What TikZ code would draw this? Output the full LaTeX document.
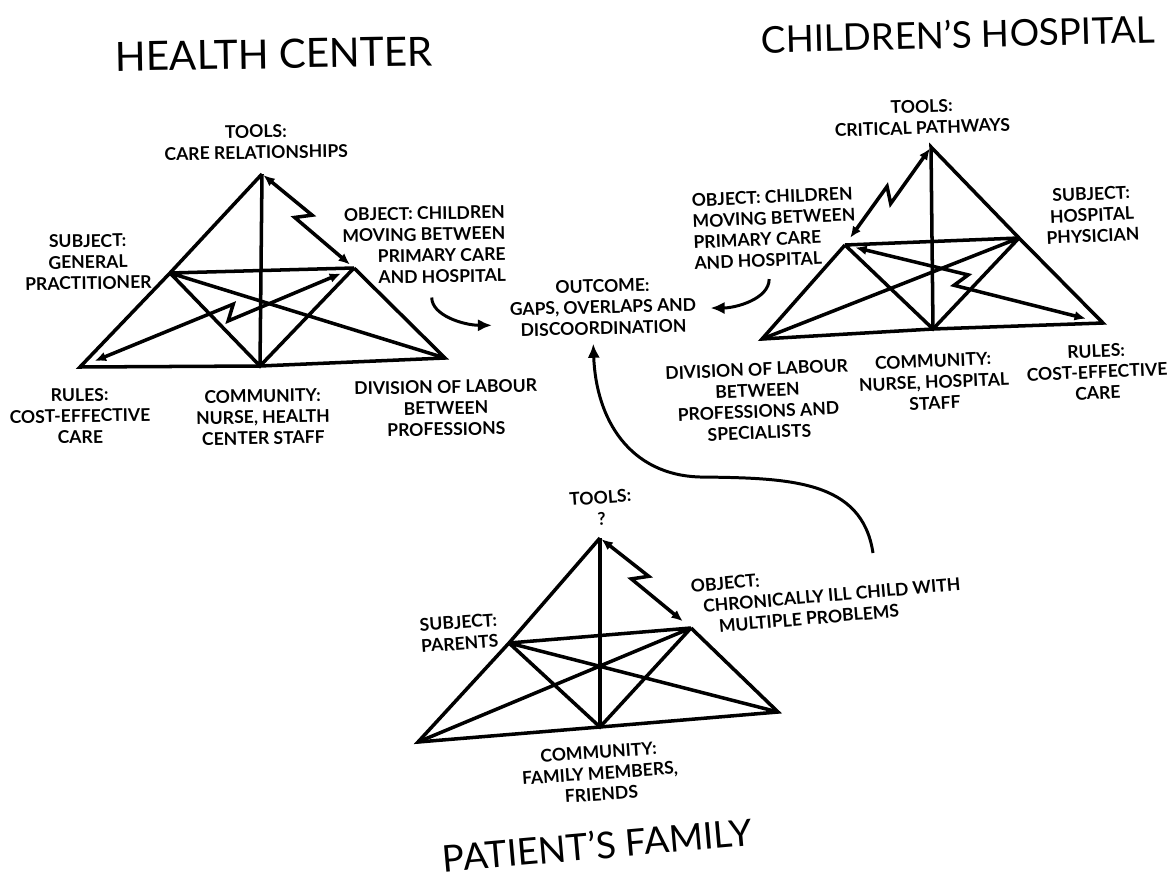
\documentclass[tikz,border=0pt]{standalone}
\usepackage{fontspec}
\setmainfont{Lato}
\usetikzlibrary{arrows.meta,calc,positioning}

\tikzset{
  edge/.style={line width=2pt},
  dbl/.style={edge, {Latex[length=6.5pt,width=5.5pt]}-{Latex[length=6.5pt,width=5.5pt]}},
  flow/.style={line width=1.7pt, -{Latex[length=8pt,width=7pt]}},
  lbl/.style={font=\fontsize{10}{12}\selectfont\bfseries, align=center, inner sep=1pt},
  title/.style={font=\fontsize{23}{27}\selectfont, inner sep=0pt}
}

% double arrow with a lightning break at #4 of the way from #2 to #3
\newcommand{\zigarrow}[4][]{%
  \draw[dbl,#1] (#2) -- ($(#2)!#4!(#3)!3pt!(#3)!4pt!90:(#3)$)
    -- ($(#2)!#4!(#3)!-3pt!(#3)!4pt!-90:(#3)$) -- (#3);}

\begin{document}
\begin{tikzpicture}[x=0.02cm, y=0.02cm]
    \useasboundingbox (0,0) rectangle (1170,-879);

    % health center
    \coordinate (hcT) at (262,-174);
    \coordinate (hcS) at (170,-273);
    \coordinate (hcO) at (354,-268);
    \coordinate (hcR) at (80,-367);
    \coordinate (hcC) at (260,-366);
    \coordinate (hcD) at (445,-358);
    \draw[edge] (hcT) -- (hcS) -- (hcR) -- (hcC) -- (hcD) -- (hcO);
    \draw[edge] (hcS) -- (hcO) (hcT) -- (hcC) (hcS) -- (hcC) -- (hcO) (hcS) -- (hcD);
    \zigarrow[shorten <=1pt, shorten >=3pt]{hcT}{hcO}{0.45}
    \zigarrow[shorten <=9pt, shorten >=8pt]{hcR}{hcO}{0.55}

    \node[title, rotate=1] (hcTitle) at (274,-54) {HEALTH CENTER};
    \node[lbl, rotate=1] (hcToolsL) at (256,-142) {TOOLS:\\CARE RELATIONSHIPS};
    \node[lbl, rotate=1] (hcSubjL) at (88,-262) {SUBJECT:\\GENERAL\\PRACTITIONER};
    \node[lbl, rotate=1, align=right] (hcObjL) at (424,-245) {OBJECT: CHILDREN\\MOVING BETWEEN\\PRIMARY CARE\\AND HOSPITAL};
    \node[lbl, rotate=1] (hcRulesL) at (80,-416) {RULES:\\COST-EFFECTIVE\\CARE};
    \node[lbl, rotate=1] (hcCommL) at (263,-417) {COMMUNITY:\\NURSE, HEALTH\\CENTER STAFF};
    \node[lbl, rotate=1] (hcDivL) at (446,-408) {DIVISION OF LABOUR\\BETWEEN\\PROFESSIONS};

    % children's hospital
    \coordinate (chT) at (931,-147);
    \coordinate (chO) at (845,-245);
    \coordinate (chS) at (1019,-238);
    \coordinate (chD) at (762,-339);
    \coordinate (chC) at (933,-329);
    \coordinate (chR) at (1103,-323);
    \draw[edge] (chO) -- (chD) -- (chC) -- (chR) -- (chS) -- (chT) -- (chC);
    \draw[edge] (chO) -- (chS) (chO) -- (chC) -- (chS) (chS) -- (chD);
    \zigarrow[shorten <=1pt, shorten >=5pt]{chT}{chO}{0.49}
    \zigarrow[shorten <=6pt, shorten >=10pt]{chO}{chR}{0.45}

    \node[title, font=\fontsize{21}{25}\selectfont, rotate=1.5] (chTitle) at (958,-34) {CHILDREN’S HOSPITAL};
    \node[lbl, rotate=2] (chToolsL) at (922,-117) {TOOLS:\\CRITICAL PATHWAYS};
    \node[lbl, rotate=2.5, align=left, anchor=west] (chObjL) at (691,-232) {OBJECT: CHILDREN\\MOVING BETWEEN\\PRIMARY CARE\\AND HOSPITAL};
    \node[lbl, rotate=2.5] (chSubjL) at (1092,-215) {SUBJECT:\\HOSPITAL\\PHYSICIAN};
    \node[lbl, rotate=2.5] (chDivL) at (758,-401) {DIVISION OF LABOUR\\BETWEEN\\PROFESSIONS AND\\SPECIALISTS};
    \node[lbl, rotate=2.5] (chCommL) at (934,-382) {COMMUNITY:\\NURSE, HOSPITAL\\STAFF};
    \node[lbl, rotate=2.5] (chRulesL) at (1097,-372) {RULES:\\COST-EFFECTIVE\\CARE};

    % patient's family
    \coordinate (pfT) at (600,-538);
    \coordinate (pfS) at (509,-643);
    \coordinate (pfO) at (691,-628);
    \coordinate (pfR) at (418,-742);
    \coordinate (pfC) at (600,-727);
    \coordinate (pfD) at (778,-712);
    \draw[edge] (pfT) -- (pfS) -- (pfR) -- (pfC) -- (pfD) -- (pfO);
    \draw[edge] (pfS) -- (pfO) (pfT) -- (pfC) (pfS) -- (pfC) -- (pfO) (pfS) -- (pfD) (pfO) -- (pfR);
    \zigarrow[shorten <=1pt, shorten >=6pt]{pfT}{pfO}{0.44}

    \node[title, font=\fontsize{21}{25}\selectfont, rotate=5] (pfTitle) at (597,-845) {PATIENT’S FAMILY};
    \node[lbl, rotate=4] (pfToolsL) at (601,-508) {TOOLS:\\?};
    \node[lbl, rotate=4, align=left] (pfSubjL) at (459,-633) {SUBJECT:\\PARENTS};
    \node[lbl, rotate=5, align=left, anchor=north west] (pfObjL) at (688,-578) {OBJECT:\\\hspace*{6pt}CHRONICALLY ILL CHILD WITH\\\hspace*{14pt}MULTIPLE PROBLEMS};
    \node[lbl, rotate=4] (pfCommL) at (600,-773) {COMMUNITY:\\FAMILY MEMBERS,\\FRIENDS};

    % outcome and flows
    \node[lbl, rotate=1.5] (outcome) at (603,-307) {OUTCOME:\\GAPS, OVERLAPS AND\\DISCOORDINATION};
    \coordinate (pfOut) at (873,-553);
    \draw[flow] ([xshift=4pt,yshift=-7pt]hcObjL.south) .. controls +(0,-18) and +(-28,0) .. ([xshift=-9pt,yshift=-9pt]outcome.west);
    \draw[flow] ([xshift=-4pt,yshift=-6pt]chObjL.south) .. controls +(0,-20) and +(25,0) .. ([xshift=7pt,yshift=-2pt]outcome.east);
    \draw[flow] (pfOut) .. controls (862,-480) and (790,-478) .. (700,-477)
        .. controls (630,-475) and (596,-420) .. ([xshift=-6pt,yshift=-4pt]outcome.south);
\end{tikzpicture}
\end{document}
